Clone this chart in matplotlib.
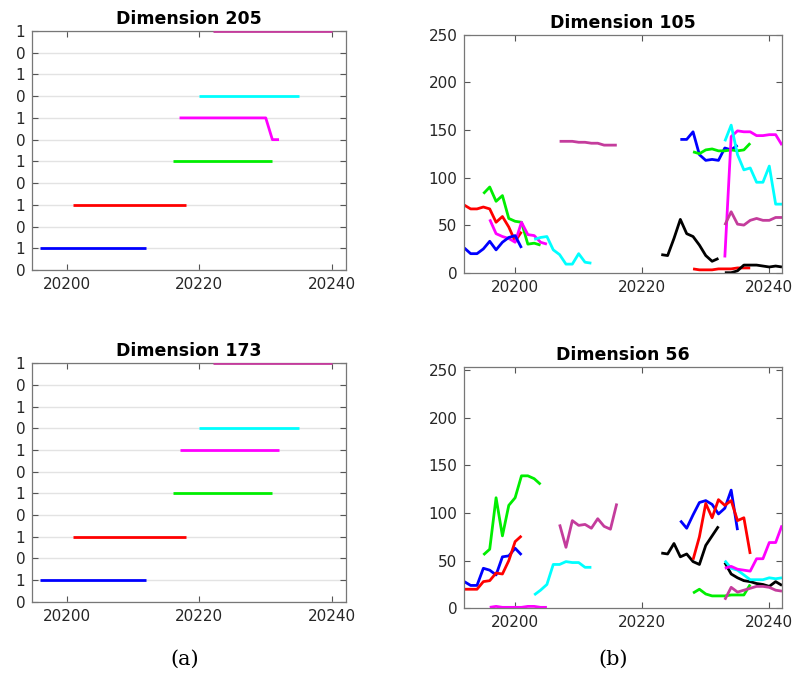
import numpy as np
import matplotlib
matplotlib.use("Agg")
import matplotlib.pyplot as plt

# ---------------- data ----------------
C_BLUE, C_RED, C_GREEN, C_MAG, C_CYAN, C_PURP, C_BLACK = (
    "#0000ff", "#ff0000", "#00ee00", "#ff00ff", "#00ffff", "#c43c9c", "#000000")

# Panel (a): binary series, each stacked with an offset of 2
a_colors = [C_BLUE, C_RED, C_GREEN, C_MAG, C_CYAN, C_PURP]
a_offsets = [0, 2, 4, 6, 8, 10]
a_starts = [20196, 20201, 20216, 20217, 20220, 20222]

d205_vals = [
    [1] * 17,
    [1] * 18,
    [1] * 16,
    [1] * 14 + [0, 0],
    [0] * 16,
    [1] * 19,
]
d173_vals = [
    [1] * 17,
    [1] * 18,
    [1] * 16,
    [1] * 16,
    [0] * 16,
    [1] * 19,
]
a_yticklabels = ["0", "1", "0", "1", "0", "1", "0", "1", "0", "1", "0", "1"]

# Panel (b): Dimension 105 segments (start x, values, color)
d105 = [
    (20192, [71, 67, 67, 69, 67, 53, 59, 48, 33, 43], C_RED),
    (20195, [83, 90, 75, 81, 57, 54, 53, 30, 31, 29], C_GREEN),
    (20196, [56, 41, 38, 36, 32, 53, 40, 39, 32, 30], C_MAG),
    (20192, [26, 20, 20, 25, 33, 24, 32, 37, 39, 26], C_BLUE),
    (20203, [35, 37, 38, 24, 19, 9, 9, 20, 11, 10], C_CYAN),
    (20207, [138, 138, 138, 137, 137, 136, 136, 134, 134, 134], C_PURP),
    (20223, [19, 18, 36, 56, 41, 38, 29, 18, 12, 15], C_BLACK),
    (20226, [140, 140, 148, 124, 118, 119, 118, 131, 129, 134], C_BLUE),
    (20228, [127, 125, 129, 130, 128, 128, 129, 128, 129, 136], C_GREEN),
    (20228, [4, 3, 3, 3, 4, 4, 4, 5, 5, 5], C_RED),
    (20233, [0, 0, 2, 8, 8, 8, 7, 6, 7, 6], C_BLACK),
    (20233, [16, 143, 149, 148, 148, 144, 144, 145, 145, 134], C_MAG),
    (20233, [138, 155, 124, 108, 110, 95, 95, 112, 72, 72], C_CYAN),
    (20233, [50, 64, 51, 50, 55, 57, 55, 55, 58, 58], C_PURP),
]

# Panel (b): Dimension 56 segments
d56 = [
    (20195, [56, 62, 116, 76, 108, 116, 139, 139, 136, 130], C_GREEN),
    (20192, [28, 24, 24, 42, 40, 35, 54, 55, 63, 56], C_BLUE),
    (20192, [20, 20, 20, 28, 29, 37, 36, 50, 70, 76], C_RED),
    (20196, [1, 2, 1, 1, 1, 1, 2, 2, 1, 1], C_MAG),
    (20203, [14, 19, 25, 46, 46, 49, 48, 48, 43, 43], C_CYAN),
    (20207, [88, 64, 92, 87, 88, 84, 94, 86, 83, 110], C_PURP),
    (20223, [58, 57, 68, 54, 57, 49, 46, 66, 76, 86], C_BLACK),
    (20226, [92, 84, 98, 111, 113, 109, 99, 105, 124, 82], C_BLUE),
    (20228, [51, 75, 110, 95, 114, 108, 113, 92, 95, 57], C_RED),
    (20228, [16, 20, 15, 13, 13, 13, 14, 14, 14, 25], C_GREEN),
    (20233, [48, 36, 32, 29, 28, 26, 25, 23, 28, 24], C_BLACK),
    (20233, [50, 42, 40, 35, 30, 30, 30, 32, 31, 32], C_CYAN),
    (20233, [42, 44, 41, 40, 39, 52, 52, 69, 69, 87], C_MAG),
    (20233, [9, 22, 17, 19, 21, 23, 23, 22, 19, 18], C_PURP),
]

x_ticks = [20200, 20220, 20240]
b_yticks = [0, 50, 100, 150, 200, 250]

# ---------------- figure ----------------
W, H = 797, 686
fig = plt.figure(figsize=(W / 100, H / 100), dpi=100)

def px_axes(left, top, right, bottom):
    return fig.add_axes([left / W, 1 - bottom / H, (right - left) / W, (bottom - top) / H])

TICK_COLOR = "#262626"
SPINE_COLOR = "#777777"
LW = 2.0

def style(ax, title):
    for s in ax.spines.values():
        s.set_color(SPINE_COLOR)
        s.set_linewidth(0.9)
    ax.tick_params(direction="in", length=4, width=0.8, color="#555555",
                   labelcolor=TICK_COLOR, labelsize=11, top=True, right=True, pad=5)
    ax.set_title(title, fontsize=12.5, fontweight="bold", pad=5)
    ax.set_xticks(x_ticks)
    ax.set_xticklabels([str(t) for t in x_ticks])

def draw_a(ax, vals, title):
    for c, off, st, v in zip(a_colors, a_offsets, a_starts, vals):
        x = np.arange(st, st + len(v))
        ax.plot(x, np.array(v) + off, color=c, lw=LW, solid_capstyle="butt", zorder=3)
    ax.set_xlim(20194.8, 20242.1)
    ax.set_ylim(0, 11)
    ax.set_yticks(range(12))
    ax.set_yticklabels(a_yticklabels)
    ax.grid(axis="y", color="#e3e3e3", lw=1.0, zorder=0)
    ax.set_axisbelow(True)
    style(ax, title)

def draw_b(ax, segs, title, ytop):
    for st, v, c in segs:
        x = np.arange(st, st + len(v))
        ax.plot(x, v, color=c, lw=LW, solid_capstyle="butt")
    ax.set_xlim(20192, 20242)
    ax.set_ylim(0, ytop)
    ax.set_yticks(b_yticks)
    style(ax, title)

ax1 = px_axes(32.3, 31, 346, 270)
draw_a(ax1, d205_vals, "Dimension 205")
ax2 = px_axes(32.3, 363.3, 346, 601.7)
draw_a(ax2, d173_vals, "Dimension 173")
ax3 = px_axes(464.3, 34.7, 782, 272.7)
draw_b(ax3, d105, "Dimension 105", 250)
ax4 = px_axes(464.3, 366.7, 782, 608.3)
draw_b(ax4, d56, "Dimension 56", 253.5)

fig.text(185 / W, 1 - 659 / H, "(a)", ha="center", va="center",
         fontsize=15, family="DejaVu Serif")
fig.text(613 / W, 1 - 659 / H, "(b)", ha="center", va="center",
         fontsize=15, family="DejaVu Serif")

fig.savefig("out.png", dpi=100)
